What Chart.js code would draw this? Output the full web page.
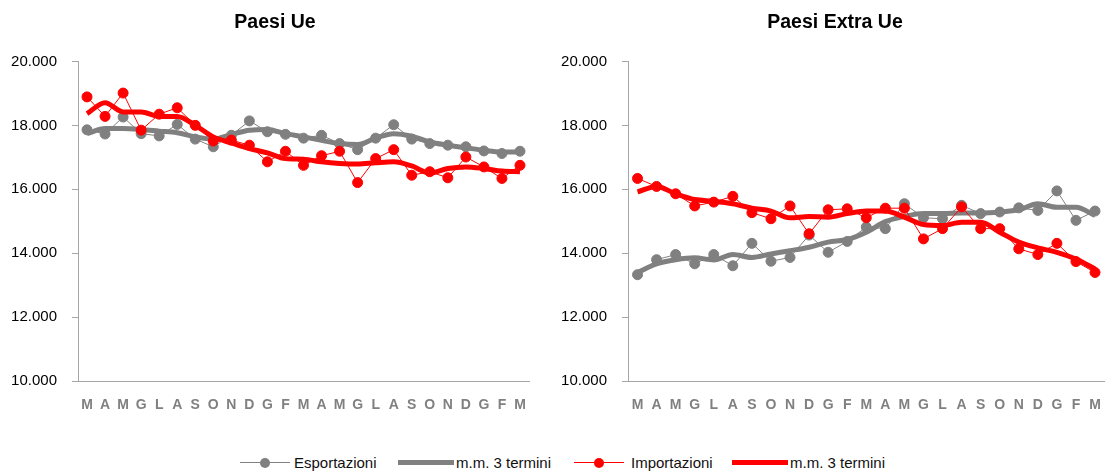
<!DOCTYPE html>
<html>
<head>
<meta charset="utf-8">
<script src="https://cdn.jsdelivr.net/npm/chart.js@4.4.0/dist/chart.umd.min.js"></script>
<style>
	body { margin: 0; width: 1117px; height: 475px; background: #fff; position: relative; overflow: hidden; font-family: 'Liberation Sans', Arial, sans-serif; }
	.box { position: absolute; top: 0; height: 440px; }
	#boxUe { left: 0; width: 550px; }
	#boxExtra { left: 550px; width: 567px; }
	.leg { position: absolute; top: 454px; height: 18px; font-size: 15px; color: #111; line-height: 18px; white-space: nowrap; }
	.line { position: absolute; }
	.dot { position: absolute; width: 10px; height: 10px; border-radius: 50%; }
</style>
</head>
<body>
<div class="box" id="boxUe"><canvas id="chartUe"></canvas></div>
<div class="box" id="boxExtra"><canvas id="chartExtra"></canvas></div>

<div class="leg" style="left:240px;width:140px">
	<span class="line" style="left:0;width:50px;top:8px;height:1px;background:#808080"></span>
	<span class="dot" style="left:20px;top:4px;background:#808080"></span>
	<span style="position:absolute;left:54px">Esportazioni</span>
</div>
<div class="leg" style="left:398px;width:160px">
	<span class="line" style="left:0;width:56px;top:6px;height:5px;background:#808080"></span>
	<span style="position:absolute;left:58px">m.m. 3 termini</span>
</div>
<div class="leg" style="left:574px;width:140px">
	<span class="line" style="left:0;width:50px;top:8px;height:1px;background:#ff0000"></span>
	<span class="dot" style="left:20px;top:4px;background:#ff0000"></span>
	<span style="position:absolute;left:57px">Importazioni</span>
</div>
<div class="leg" style="left:732px;width:160px">
	<span class="line" style="left:0;width:56px;top:6px;height:5px;background:#ff0000"></span>
	<span style="position:absolute;left:58px">m.m. 3 termini</span>
</div>

<script>
const mesi = ['M', 'A', 'M', 'G', 'L', 'A', 'S', 'O', 'N', 'D', 'G', 'F', 'M', 'A', 'M', 'G', 'L', 'A', 'S', 'O', 'N', 'D', 'G', 'F', 'M'];

// Paesi Ue
const ueExp = [17860, 17730, 18260, 17740, 17670, 18030, 17570, 17330, 17690, 18140, 17800, 17720, 17600, 17690, 17430, 17240, 17600, 18020, 17570, 17430, 17380, 17330, 17200, 17120, 17190];
const ueExpMM = [17740, 17900, 17900, 17870, 17820, 17770, 17640, 17570, 17710, 17850, 17870, 17740, 17640, 17530, 17430, 17400, 17600, 17740, 17660, 17480, 17380, 17300, 17220, 17170, 17170];
const ueImp = [18890, 18280, 19010, 17850, 18350, 18550, 18000, 17510, 17540, 17380, 16860, 17190, 16750, 17050, 17190, 16210, 16960, 17240, 16440, 16550, 16360, 17010, 16700, 16340, 16750];
const ueImpMM = [18370, 18710, 18420, 18420, 18280, 18280, 18000, 17640, 17450, 17270, 17140, 16960, 16940, 16860, 16810, 16790, 16830, 16860, 16730, 16510, 16650, 16700, 16650, 16570, 16550];

// Paesi Extra Ue
const extraExp = [13330, 13800, 13960, 13670, 13960, 13610, 14310, 13750, 13870, 14570, 14030, 14370, 14820, 14770, 15550, 15110, 15080, 15500, 15240, 15290, 15420, 15340, 15950, 15030, 15320];
const extraExpMM = [13400, 13670, 13800, 13860, 13790, 13960, 13870, 13980, 14080, 14190, 14350, 14430, 14660, 14990, 15150, 15240, 15240, 15260, 15260, 15290, 15360, 15550, 15440, 15440, 15180];
const extraImp = [16340, 16090, 15860, 15480, 15600, 15780, 15270, 15080, 15480, 14610, 15360, 15390, 15110, 15410, 15410, 14450, 14770, 15450, 14770, 14770, 14140, 13960, 14310, 13740, 13400];
const extraImpMM = [15920, 16090, 15860, 15680, 15630, 15550, 15410, 15320, 15110, 15150, 15130, 15240, 15320, 15320, 15130, 14900, 14870, 14970, 14970, 14660, 14350, 14170, 14030, 13820, 13510];

const yTicks = [10000, 12000, 14000, 16000, 18000, 20000];

const GRIGIO = '#808080';
const ROSSO = '#ff0000';
const ASSE = '#a6a6a6';
const FONT = "'Liberation Sans', Arial, sans-serif";

const formatta = (v) => {
	const s = String(v);
	return s.slice(0, s.length - 3) + '.' + s.slice(-3);
};

// spazio vuoto a destra (serve solo a centrare il titolo)
function creaGrafico(id, titolo, exp, expMM, imp, impMM, padLeft, padRight, spazioDx) {
	return new Chart(document.getElementById(id), {
		type: 'line',
		data: {
			labels: mesi,
			datasets: [
				{ label: 'Importazioni', data: imp, borderColor: ROSSO, backgroundColor: ROSSO, borderWidth: 1, pointRadius: 5, pointHoverRadius: 5, order: 0 },
				{ label: 'm.m. 3 termini', data: impMM, borderColor: ROSSO, borderWidth: 5, pointRadius: 0, cubicInterpolationMode: 'monotone', order: 1 },
				{ label: 'Esportazioni', data: exp, borderColor: GRIGIO, backgroundColor: GRIGIO, borderWidth: 1, pointRadius: 5, pointHoverRadius: 5, order: 2 },
				{ label: 'm.m. 3 termini', data: expMM, borderColor: GRIGIO, borderWidth: 5, pointRadius: 0, cubicInterpolationMode: 'monotone', order: 3 },
			],
		},
		options: {
			responsive: true,
			maintainAspectRatio: false,
			animation: false,
			layout: { padding: { left: padLeft, right: padRight, top: 0, bottom: 10 } },
			plugins: {
				legend: { display: false },
				tooltip: { enabled: false },
				title: {
					display: true,
					text: titolo,
					color: '#000',
					font: { family: FONT, size: 19.5, weight: 'bold' },
					padding: { top: 11, bottom: 27 },
				},
			},
			scales: {
				x: {
					offset: true,
					grid: { display: true, drawOnChartArea: false, drawTicks: false },
					border: { color: ASSE, width: 1 },
					ticks: {
						autoSkip: false,
						maxRotation: 0,
						padding: 16,
						color: GRIGIO,
						font: { family: FONT, size: 14, weight: 'bold' },
					},
				},
				y: {
					min: 10000,
					max: 20000,
					afterBuildTicks: (scale) => {
						scale.ticks = yTicks.map((v) => ({ value: v }));
					},
					afterFit: (scale) => {
						scale.width = 78 - padLeft;
					},
					grid: { drawOnChartArea: false, drawTicks: true, tickLength: 6, color: ASSE },
					border: { color: ASSE, width: 1 },
					ticks: {
						padding: 15,
						color: '#000',
						font: { family: FONT, size: 15 },
						callback: (v) => formatta(v),
					},
				},
				vuoto: {
					type: 'linear',
					position: 'right',
					display: spazioDx > 0,
					grid: { display: false },
					border: { display: false },
					ticks: { display: false },
					afterFit: (scale) => {
						scale.width = spazioDx;
					},
				},
			},
		},
	});
}

creaGrafico('chartUe', 'Paesi Ue', ueExp, ueExpMM, ueImp, ueImpMM, 0, 0, 21);
creaGrafico('chartExtra', 'Paesi Extra Ue', extraExp, extraExpMM, extraImp, extraImpMM, 10, 7, 0);
</script>
</body>
</html>
